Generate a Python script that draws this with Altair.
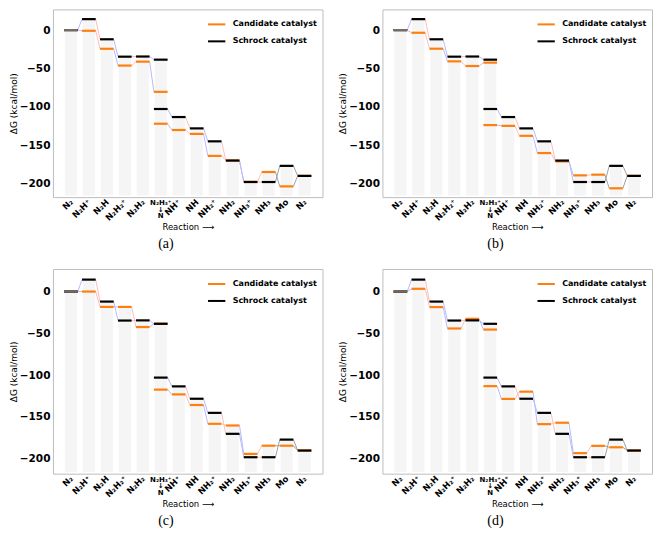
import altair as alt
import pandas as pd

# ---- data ----
STAGES = ["N₂", "N₂H⁺", "N₂H", "N₂H₂⁺", "N₂H₂", "N₂H₃⁺", "N", "NH⁺", "NH",
          "NH₂⁺", "NH₂", "NH₃⁺", "NH₃", "Mo", "N₂"]
STAGE_COLUMN = [0, 1, 2, 3, 4, 5, 5, 6, 7, 8, 9, 10, 11, 12, 13]
COLUMN_LABELS = ["N₂", "N₂H⁺", "N₂H", "N₂H₂⁺", "N₂H₂", "", "NH⁺", "NH",
                 "NH₂⁺", "NH₂", "NH₃⁺", "NH₃", "Mo", "N₂"]
SPLIT_COLUMN = 5
SPLIT_LABEL = ["N₂H₃⁺", "↓", "N"]
# kind of each transition between consecutive stages (None = same column)
STEP_KIND = ["H⁺", "e⁻", "H⁺", "e⁻", "H⁺", None, "H⁺", "e⁻", "H⁺", "e⁻",
             "H⁺", "e⁻", "swap", "swap"]

SCHROCK = [0, 14.3, -12.0, -34.7, -34.5, -38.6, -103.0, -113.5, -128.3,
           -145.2, -170.3, -198.3, -198.3, -177.2, -190.3]
CANDIDATE_A = [0, -0.9, -24.4, -46.3, -41.2, -80.6, -122.2, -130.4, -135.5,
               -164.2, -170.2, -198.0, -185.2, -204.0, -190.3]
CANDIDATE_B = [0, -3.5, -24.3, -40.8, -46.9, -42.5, -124.0, -125.0, -138.0,
               -160.5, -171.4, -189.6, -188.7, -206.5, -190.3]
CANDIDATE_C = [0, 0.0, -18.4, -18.4, -42.5, -38.4, -117.4, -123.1, -135.8,
               -158.3, -160.3, -194.3, -184.5, -184.5, -190.3]
CANDIDATE_D = [0, 3.3, -18.6, -44.2, -32.6, -45.5, -113.2, -128.5, -119.8,
               -158.7, -157.0, -193.4, -184.7, -186.4, -190.3]
CAPTIONS = ["(a)", "(b)", "(c)", "(d)"]
SERIES = ["Candidate catalyst", "Schrock catalyst"]
Y_TICKS = [0, -50, -100, -150, -200]

# ---- style ----
ORANGE = "#ff7f0e"
BLACK = "#000000"
HALF_LEVEL = 0.38
HALF_BAR = 0.34
BAR_BASE = -216
X_DOMAIN = [-1, 14]
Y_DOMAIN = [-218, 27]
W = 270
FONT = "DejaVu Sans"

label_expr = "[" + ",".join("'" + s + "'" for s in COLUMN_LABELS) + "][datum.value]"


def panel(cand, caption, height):
    series_vals = {SERIES[0]: cand, SERIES[1]: SCHROCK}
    lv, cn = [], []
    for s in SERIES:
        v = series_vals[s]
        for i, val in enumerate(v):
            c = STAGE_COLUMN[i]
            lv.append(dict(series=s, stage=STAGES[i], x1=c - HALF_LEVEL,
                           x2=c + HALF_LEVEL, y=val))
        for t, kind in enumerate(STEP_KIND):
            if kind is None:
                continue
            cn.append(dict(series=s, kind=kind,
                           x1=STAGE_COLUMN[t] + HALF_LEVEL,
                           x2=STAGE_COLUMN[t + 1] - HALF_LEVEL,
                           y1=v[t], y2=v[t + 1]))
    bars = []
    for c in range(len(COLUMN_LABELS)):
        tops = [max(cand[i], SCHROCK[i]) for i in range(len(STAGES))
                if STAGE_COLUMN[i] == c]
        bars.append(dict(x1=c - HALF_BAR, x2=c + HALF_BAR, y1=BAR_BASE,
                         y2=max(tops)))
    lv_df = pd.DataFrame(lv)
    cn_df = pd.DataFrame(cn)
    bar_df = pd.DataFrame(bars)
    first_df = lv_df[lv_df["stage"].eq(STAGES[0]) & lv_df["x1"].lt(0)].head(1)

    xs = alt.Scale(domain=X_DOMAIN, nice=False, zero=False)
    ys = alt.Scale(domain=Y_DOMAIN, nice=False, zero=False)
    x_axis = alt.Axis(values=list(range(len(COLUMN_LABELS))), labelExpr=label_expr,
                      labelAngle=315, labelAlign="right", labelBaseline="middle",
                      labelFontSize=8.5, labelFontWeight="bold", labelPadding=3,
                      labelOverlap=False, labelFlush=False,
                      title="Reaction ⟶", titleFontSize=8.5,
                      titleFontWeight="normal", titlePadding=1)
    y_axis = alt.Axis(values=Y_TICKS, labelFontSize=10.5, labelFontWeight="bold",
                      labelPadding=3, title="ΔG (kcal/mol)", titleFontSize=9,
                      titleFontWeight="normal", titlePadding=1)

    def X(f):
        return alt.X(f + ":Q", scale=xs, axis=x_axis)

    def Y(f):
        return alt.Y(f + ":Q", scale=ys, axis=y_axis)

    bar_layer = alt.Chart(bar_df).mark_rect(color="#f5f5f5").encode(
        x=X("x1"), x2="x2", y=Y("y1"), y2="y2")
    conn_layer = alt.Chart(cn_df).mark_rule(strokeWidth=1).encode(
        x=X("x1"), x2="x2", y=Y("y1"), y2="y2",
        stroke=alt.Stroke("kind:N", legend=None,
                          scale=alt.Scale(domain=["H⁺", "e⁻", "swap"],
                                          range=["#b9b9ff", "#ffbcbc", "#a0a0a0"])))
    level_layer = alt.Chart(lv_df).mark_rule(strokeWidth=2.2).encode(
        x=X("x1"), x2="x2", y=Y("y"),
        color=alt.Color("series:N", sort=SERIES,
                        scale=alt.Scale(domain=SERIES, range=[ORANGE, BLACK]),
                        legend=alt.Legend(title=None, orient="top-right")))
    first_layer = alt.Chart(first_df).mark_rule(strokeWidth=2.2, color="#6e6e6e").encode(
        x=X("x1"), x2="x2", y=Y("y"))
    split_df = pd.DataFrame({"col": [SPLIT_COLUMN]})
    split_layer = alt.Chart(split_df).mark_text(
        text=SPLIT_LABEL, fontSize=7, fontWeight="bold", font=FONT,
        lineHeight=6.5, baseline="top", align="center", color="black").encode(
        x=X("col"), y=alt.value(height + 2))

    return alt.layer(bar_layer, conn_layer, level_layer, first_layer, split_layer).properties(
        width=W, height=height,
        title=alt.TitleParams(caption, orient="bottom", anchor="middle", frame="bounds",
                              font="Liberation Serif", fontSize=14,
                              fontWeight="normal", offset=6, color="black"))


pa = panel(CANDIDATE_A, CAPTIONS[0], 188)
pb = panel(CANDIDATE_B, CAPTIONS[1], 188)
pc = panel(CANDIDATE_C, CAPTIONS[2], 205)
pd_ = panel(CANDIDATE_D, CAPTIONS[3], 205)

row1 = alt.hconcat(pa, pb, spacing=14).resolve_scale(color="independent", stroke="independent")
row2 = alt.hconcat(pc, pd_, spacing=14).resolve_scale(color="independent", stroke="independent")
chart = alt.vconcat(row1, row2, spacing=16).resolve_scale(
    color="independent", stroke="independent"
).properties(padding=0, background="white").configure_view(
    stroke="#bdbdbd", strokeWidth=1
).configure_axis(
    domain=False, ticks=False, grid=False, labelFont=FONT, titleFont=FONT,
    labelColor="black", titleColor="black"
).configure_legend(
    labelFont=FONT, labelFontSize=8, labelFontWeight="bold", labelColor="black",
    symbolType="stroke", symbolStrokeWidth=2, symbolSize=300, labelOffset=6,
    rowPadding=3, offset=5, padding=0
)

chart.save("out.html", embed_options={"renderer": "svg", "actions": False})
